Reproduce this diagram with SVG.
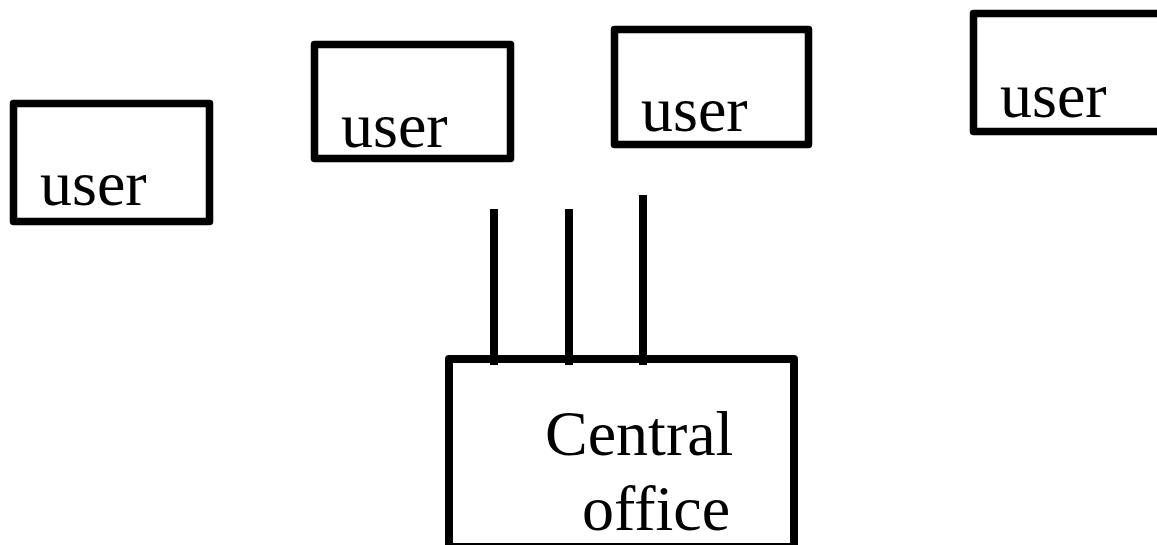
<svg xmlns="http://www.w3.org/2000/svg" width="1157" height="545" viewBox="0 0 1157 545">
<style>
.box{fill:#fff;stroke:#000;stroke-width:7.5;stroke-linejoin:round}
.co{fill:#fff;stroke:#000;stroke-width:8;stroke-linejoin:round}
.lbl{font-family:"Liberation Serif","Times New Roman",serif;font-size:64px;fill:#000}
.wire{stroke:#000;stroke-width:8;fill:none}
</style>
<rect width="1157" height="545" fill="#fff"/>
<g id="user1"><rect class="box" x="13.5" y="103.5" width="196" height="118"/><text class="lbl" x="40" y="205">user</text></g>
<g id="user2"><rect class="box" x="314.5" y="44.5" width="196" height="114"/><text class="lbl" x="341" y="147">user</text></g>
<g id="user3"><rect class="box" x="614.5" y="29.5" width="194" height="115"/><text class="lbl" x="641" y="131">user</text></g>
<g id="user4"><rect class="box" x="973.5" y="13.5" width="200" height="118"/><text class="lbl" x="1000" y="117">user</text></g>
<g id="central"><rect class="co" x="449" y="359" width="345" height="188"/><text class="lbl" x="545" y="455">Central</text><text class="lbl" x="582" y="530">office</text></g>
<g id="connectors">
<line class="wire" x1="494" y1="209" x2="494" y2="365"/>
<line class="wire" x1="569" y1="209" x2="569" y2="365"/>
<line class="wire" x1="643" y1="195" x2="643" y2="365"/>
</g>
</svg>
